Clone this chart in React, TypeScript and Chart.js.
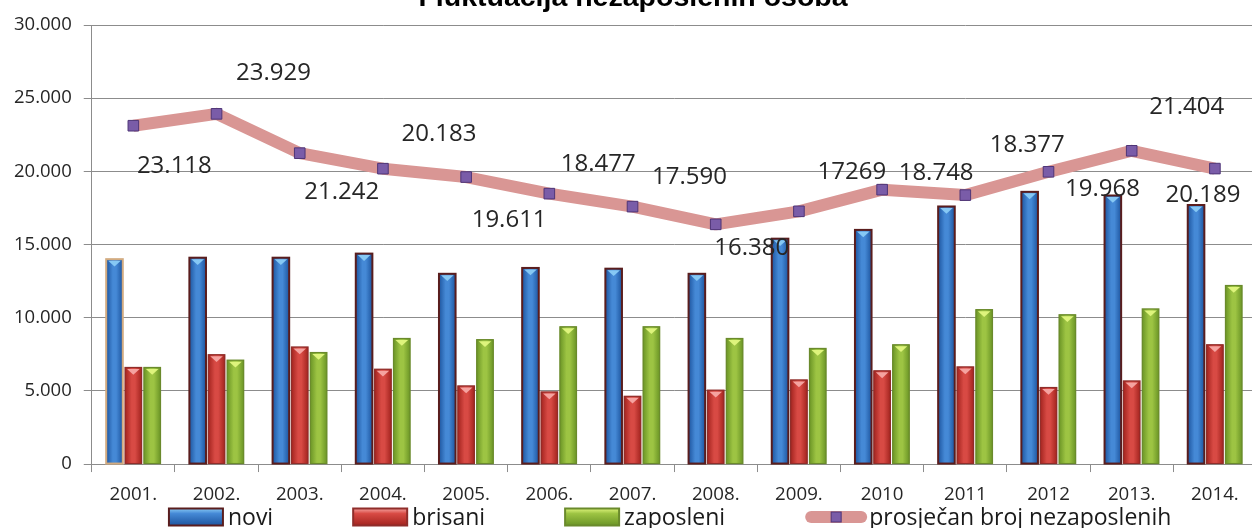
import React, { useEffect, useRef } from 'react';
import { Chart, registerables } from 'chart.js';

Chart.register(...registerables);

// ---- data ----
const years = ['2001.', '2002.', '2003.', '2004.', '2005.', '2006.', '2007.', '2008.', '2009.', '2010', '2011', '2012', '2013.', '2014.'];
const seriesNames = ['novi', 'brisani', 'zaposleni', 'prosječan broj nezaposlenih'];
const novi = [14000, 14100, 14100, 14380, 13000, 13400, 13350, 13000, 15400, 16000, 17600, 18600, 18350, 17700];
const brisani = [6600, 7470, 8000, 6480, 5340, 4930, 4630, 5050, 5750, 6370, 6640, 5230, 5680, 8150];
const zaposleni = [6600, 7100, 7620, 8580, 8500, 9380, 9380, 8580, 7900, 8150, 10550, 10200, 10600, 12200];
const prosjecan = [23118, 23929, 21242, 20183, 19611, 18477, 17590, 16380, 17269, 18748, 18377, 19968, 21404, 20189];
const prosjecanLabels = ['23.118', '23.929', '21.242', '20.183', '19.611', '18.477', '17.590', '16.380', '17269', '18.748', '18.377', '19.968', '21.404', '20.189'];
const yMin = 0;
const yMax = 30000;
const yStep = 5000;
const title = 'Fluktuacija nezaposlenih osoba';

// label placement relative to each point (as in the original, labels sit off to the side)
const labelOffsets: [number, number][] = [
  [41, 40], [57, -41], [42, 39], [56, -35], [43, 43], [49, -29], [57, -29],
  [36, 24], [53, -39], [54, -17], [62, -50], [54, 17], [55, -44], [-12, 27],
];

const FONT = '"Open Sans", "Liberation Sans", sans-serif';

const barStyles = [
  { edge: '#1d559f', mid: '#4589d6', tip: '#86c8f4', border: '#5a1d1d' },
  { edge: '#a3241f', mid: '#d84a44', tip: '#f5a3a0', border: '#8f2d2a' },
  { edge: '#6b9526', mid: '#9dc443', tip: '#def47c', border: '#6a8a2c' },
];

const fmt = (v: number) => {
  if (v === 0) return '0';
  const s = String(Math.round(v));
  return s.replace(/\B(?=(\d{3})+(?!\d))/g, '.');
};

const barLook = {
  id: 'barLook',
  afterDatasetDraw(chart: any, args: any) {
    const i = args.index;
    if (i > 2) return;
    const ctx = chart.ctx;
    const st = barStyles[i];
    const area = chart.chartArea;
    ctx.save();
    ctx.beginPath();
    ctx.rect(area.left, area.top - 2, area.right - area.left, area.bottom - area.top + 4);
    ctx.clip();
    args.meta.data.forEach((el: any, j: number) => {
      const p = el.getProps(['x', 'y', 'base', 'width'], true);
      const l = p.x - p.width / 2;
      const r = p.x + p.width / 2;
      const t = Math.min(p.y, p.base);
      const b = Math.max(p.y, p.base);
      const g = ctx.createLinearGradient(l, 0, r, 0);
      g.addColorStop(0, st.edge);
      g.addColorStop(0.4, st.mid);
      g.addColorStop(0.6, st.mid);
      g.addColorStop(1, st.edge);
      ctx.fillStyle = g;
      ctx.fillRect(l, t, p.width, b - t);
      // bevel highlight at the top
      ctx.fillStyle = st.tip;
      ctx.beginPath();
      ctx.moveTo(l + 2, t + 1.5);
      ctx.lineTo(r - 2, t + 1.5);
      ctx.lineTo(p.x, t + 1.5 + Math.min(6, p.width * 0.35));
      ctx.closePath();
      ctx.fill();
      ctx.strokeStyle = i === 0 && j === 0 ? '#d2ab80' : st.border;
      ctx.lineWidth = i === 0 ? 2 : 1.2;
      ctx.strokeRect(l, t, p.width, b - t);
    });
    ctx.restore();
  },
};

const pointLabels = {
  id: 'pointLabels',
  afterDatasetsDraw(chart: any) {
    const meta = chart.getDatasetMeta(3);
    const ctx = chart.ctx;
    ctx.save();
    ctx.font = `24px ${FONT}`;
    ctx.fillStyle = '#262626';
    ctx.textAlign = 'center';
    ctx.textBaseline = 'middle';
    meta.data.forEach((pt: any, i: number) => {
      const [dx, dy] = labelOffsets[i];
      ctx.fillText(prosjecanLabels[i], pt.x + dx, pt.y + dy);
    });
    ctx.restore();
  },
};

const customLegend = {
  id: 'customLegend',
  afterDraw(chart: any) {
    const ctx = chart.ctx;
    const area = chart.chartArea;
    const boxW = 54;
    const boxH = 17;
    const lineW = 62;
    const textGap = 5;
    const itemGap = 80;
    ctx.save();
    ctx.font = `23px ${FONT}`;
    ctx.textBaseline = 'middle';
    ctx.textAlign = 'left';
    const labels = chart.data.datasets.map((d: any) => d.label);
    const widths = labels.map((t: string, i: number) => (i === 3 ? lineW + 2 : boxW + textGap) + ctx.measureText(t).width);
    const total = widths.reduce((a: number, b: number) => a + b, 0) + itemGap * (labels.length - 1);
    let x = (area.left + area.right) / 2 - 4 - total / 2;
    const cy = chart.height - 11;
    labels.forEach((t: string, i: number) => {
      if (i < 3) {
        const st = barStyles[i];
        const g = ctx.createLinearGradient(0, cy - boxH / 2, 0, cy + boxH / 2);
        g.addColorStop(0, st.tip);
        g.addColorStop(0.3, st.mid);
        g.addColorStop(1, st.edge);
        ctx.fillStyle = g;
        ctx.fillRect(x, cy - boxH / 2, boxW, boxH);
        ctx.strokeStyle = i === 0 ? '#5a1d1d' : st.border;
        ctx.lineWidth = 2;
        ctx.strokeRect(x, cy - boxH / 2, boxW, boxH);
        ctx.fillStyle = '#1a1a1a';
        ctx.fillText(t, x + boxW + textGap, cy + 1);
      } else {
        ctx.strokeStyle = '#d99694';
        ctx.lineWidth = 12;
        ctx.lineCap = 'round';
        ctx.beginPath();
        ctx.moveTo(x + 6, cy);
        ctx.lineTo(x + lineW - 6, cy);
        ctx.stroke();
        ctx.fillStyle = '#7a5ca8';
        ctx.strokeStyle = '#4e3577';
        ctx.lineWidth = 1;
        ctx.fillRect(x + lineW / 2 - 5, cy - 5, 10, 10);
        ctx.strokeRect(x + lineW / 2 - 5, cy - 5, 10, 10);
        ctx.fillStyle = '#1a1a1a';
        ctx.fillText(t, x + lineW + 2, cy + 1);
      }
      x += widths[i] + itemGap;
    });
    ctx.restore();
  },
};

export default function App() {
  const ref = useRef<HTMLCanvasElement | null>(null);

  useEffect(() => {
    if (!ref.current) return;
    const chart = new Chart(ref.current, {
      type: 'bar',
      data: {
        labels: years,
        datasets: [
          { type: 'bar', label: seriesNames[0], data: novi, backgroundColor: '#2e6fc2', borderWidth: 0, order: 1, categoryPercentage: 0.68, barPercentage: 0.88 },
          { type: 'bar', label: seriesNames[1], data: brisani, backgroundColor: '#c0332e', borderWidth: 0, order: 1, categoryPercentage: 0.68, barPercentage: 0.88 },
          { type: 'bar', label: seriesNames[2], data: zaposleni, backgroundColor: '#8ab43a', borderWidth: 0, order: 1, categoryPercentage: 0.68, barPercentage: 0.88 },
          {
            type: 'line',
            label: seriesNames[3],
            data: prosjecan,
            borderColor: '#d99694',
            borderWidth: 12,
            borderJoinStyle: 'round',
            tension: 0,
            pointStyle: 'rect',
            pointRadius: 7.5,
            pointBackgroundColor: '#7a5ca8',
            pointBorderColor: '#4e3577',
            pointBorderWidth: 1,
            order: 0,
          } as any,
        ],
      },
      options: {
        animation: false,
        responsive: true,
        maintainAspectRatio: false,
        layout: { padding: { left: 2, right: 1, top: 0, bottom: 11.5 } },
        plugins: {
          legend: { display: false },
          tooltip: { enabled: false },
          title: {
            display: true,
            text: title,
            color: '#000',
            font: { family: '"Liberation Sans", Arial, sans-serif', size: 28.5, weight: 'bold' },
            padding: { top: 5, bottom: 9.8 },
          },
        },
        scales: {
          x: {
            offset: true,
            grid: { display: true, drawOnChartArea: false, drawTicks: true, tickLength: 8, color: '#8c8c8c', offset: true },
            border: { display: true, color: '#8c8c8c' },
            ticks: { color: '#262626', font: { family: FONT, size: 18.7 }, padding: 11, maxRotation: 0, autoSkip: false },
          },
          y: {
            min: yMin,
            max: yMax,
            grid: { color: '#8c8c8c', tickLength: 8, drawTicks: true },
            border: { display: true, color: '#8c8c8c' },
            ticks: { stepSize: yStep, color: '#262626', font: { family: FONT, size: 18.5 }, padding: 12, callback: (v: any) => fmt(Number(v)) },
          },
        },
      },
      plugins: [barLook, pointLabels, customLegend],
    });
    return () => chart.destroy();
  }, []);

  return (
    <div style={{ position: 'fixed', left: 0, top: 0, width: 1252, height: 528, overflow: 'hidden', background: '#fff' }}>
      <div style={{ position: 'absolute', left: 0, top: -24, width: 1265, height: 552 }}>
        <canvas ref={ref} />
      </div>
    </div>
  );
}
